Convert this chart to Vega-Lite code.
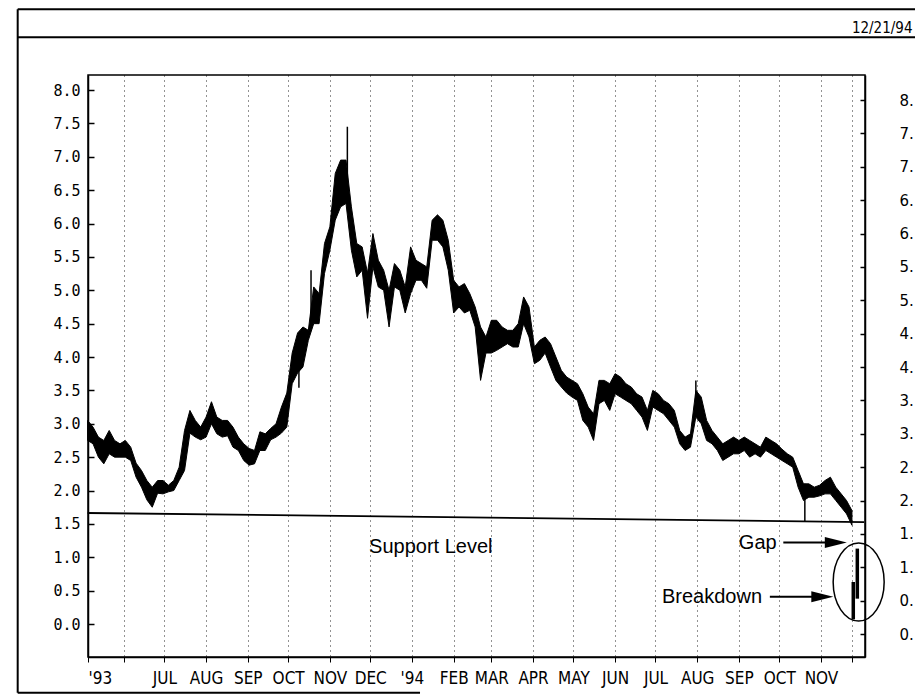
{
  "$schema": "https://vega.github.io/schema/vega-lite/v6.json",
  "width": 777,
  "height": 582,
  "autosize": {"type": "none"},
  "padding": {"left": 88, "top": 75, "right": 50, "bottom": 42},
  "background": "#ffffff",
  "config": {
    "view": {"stroke": "#000000", "strokeWidth": 1.5},
    "axis": {"domainColor": "#000000", "domainWidth": 1.5, "tickColor": "#000000", "labelColor": "#000000", "title": null, "grid": false}
  },
  "datasets": {
    "prices": [
      {"d": "1993-05-05", "lo": 2.75, "hi": 3.05}, {"d": "1993-05-09", "lo": 2.70, "hi": 2.95}, {"d": "1993-05-13", "lo": 2.50, "hi": 2.80}, {"d": "1993-05-17", "lo": 2.40, "hi": 2.75},
      {"d": "1993-05-21", "lo": 2.55, "hi": 2.90}, {"d": "1993-05-25", "lo": 2.50, "hi": 2.75}, {"d": "1993-05-29", "lo": 2.50, "hi": 2.70}, {"d": "1993-06-02", "lo": 2.50, "hi": 2.75},
      {"d": "1993-06-06", "lo": 2.45, "hi": 2.65}, {"d": "1993-06-10", "lo": 2.20, "hi": 2.41}, {"d": "1993-06-14", "lo": 2.05, "hi": 2.30}, {"d": "1993-06-18", "lo": 1.86, "hi": 2.15},
      {"d": "1993-06-22", "lo": 1.75, "hi": 2.05}, {"d": "1993-06-26", "lo": 1.96, "hi": 2.15}, {"d": "1993-06-30", "lo": 1.95, "hi": 2.15}, {"d": "1993-07-04", "lo": 1.98, "hi": 2.08},
      {"d": "1993-07-08", "lo": 2.00, "hi": 2.15}, {"d": "1993-07-12", "lo": 2.15, "hi": 2.35}, {"d": "1993-07-16", "lo": 2.30, "hi": 2.90}, {"d": "1993-07-20", "lo": 2.86, "hi": 3.20},
      {"d": "1993-07-24", "lo": 2.80, "hi": 3.05}, {"d": "1993-07-28", "lo": 2.76, "hi": 2.95}, {"d": "1993-08-01", "lo": 2.80, "hi": 3.10}, {"d": "1993-08-05", "lo": 3.00, "hi": 3.33},
      {"d": "1993-08-09", "lo": 2.85, "hi": 3.10}, {"d": "1993-08-13", "lo": 2.80, "hi": 3.05}, {"d": "1993-08-17", "lo": 2.82, "hi": 3.05}, {"d": "1993-08-21", "lo": 2.65, "hi": 2.95},
      {"d": "1993-08-25", "lo": 2.60, "hi": 2.80}, {"d": "1993-08-29", "lo": 2.45, "hi": 2.70}, {"d": "1993-09-02", "lo": 2.38, "hi": 2.63}, {"d": "1993-09-06", "lo": 2.40, "hi": 2.60},
      {"d": "1993-09-10", "lo": 2.60, "hi": 2.88}, {"d": "1993-09-14", "lo": 2.60, "hi": 2.85}, {"d": "1993-09-18", "lo": 2.76, "hi": 2.93}, {"d": "1993-09-22", "lo": 2.80, "hi": 3.00},
      {"d": "1993-09-26", "lo": 2.86, "hi": 3.25}, {"d": "1993-09-30", "lo": 2.95, "hi": 3.46}, {"d": "1993-10-04", "lo": 3.60, "hi": 4.06}, {"d": "1993-10-08", "lo": 3.76, "hi": 4.36},
      {"d": "1993-10-12", "lo": 3.85, "hi": 4.45}, {"d": "1993-10-16", "lo": 4.25, "hi": 4.40}, {"d": "1993-10-20", "lo": 4.50, "hi": 5.05}, {"d": "1993-10-24", "lo": 4.50, "hi": 4.95},
      {"d": "1993-10-28", "lo": 5.25, "hi": 5.70}, {"d": "1993-11-01", "lo": 5.60, "hi": 5.95}, {"d": "1993-11-05", "lo": 6.05, "hi": 6.75}, {"d": "1993-11-09", "lo": 6.25, "hi": 6.95},
      {"d": "1993-11-13", "lo": 6.30, "hi": 6.95}, {"d": "1993-11-17", "lo": 5.60, "hi": 6.25}, {"d": "1993-11-21", "lo": 5.20, "hi": 5.70}, {"d": "1993-11-25", "lo": 5.30, "hi": 5.65},
      {"d": "1993-11-29", "lo": 4.58, "hi": 5.26}, {"d": "1993-12-03", "lo": 5.35, "hi": 5.85}, {"d": "1993-12-07", "lo": 5.05, "hi": 5.45}, {"d": "1993-12-11", "lo": 5.00, "hi": 5.30},
      {"d": "1993-12-15", "lo": 4.45, "hi": 5.00}, {"d": "1993-12-19", "lo": 5.05, "hi": 5.40}, {"d": "1993-12-23", "lo": 5.00, "hi": 5.30}, {"d": "1993-12-27", "lo": 4.66, "hi": 5.05},
      {"d": "1993-12-31", "lo": 4.95, "hi": 5.65}, {"d": "1994-01-04", "lo": 5.15, "hi": 5.45}, {"d": "1994-01-08", "lo": 5.15, "hi": 5.40}, {"d": "1994-01-12", "lo": 5.03, "hi": 5.35},
      {"d": "1994-01-16", "lo": 5.75, "hi": 6.05}, {"d": "1994-01-20", "lo": 5.75, "hi": 6.13}, {"d": "1994-01-24", "lo": 5.65, "hi": 6.05}, {"d": "1994-01-28", "lo": 5.30, "hi": 5.75},
      {"d": "1994-02-01", "lo": 4.66, "hi": 5.15}, {"d": "1994-02-05", "lo": 4.75, "hi": 5.05}, {"d": "1994-02-09", "lo": 4.66, "hi": 5.10}, {"d": "1994-02-13", "lo": 4.70, "hi": 4.95},
      {"d": "1994-02-17", "lo": 4.45, "hi": 4.75}, {"d": "1994-02-21", "lo": 3.65, "hi": 4.45}, {"d": "1994-02-25", "lo": 4.06, "hi": 4.30}, {"d": "1994-03-01", "lo": 4.06, "hi": 4.55},
      {"d": "1994-03-05", "lo": 4.10, "hi": 4.55}, {"d": "1994-03-09", "lo": 4.15, "hi": 4.45}, {"d": "1994-03-13", "lo": 4.20, "hi": 4.40}, {"d": "1994-03-17", "lo": 4.15, "hi": 4.40},
      {"d": "1994-03-21", "lo": 4.15, "hi": 4.50}, {"d": "1994-03-25", "lo": 4.50, "hi": 4.90}, {"d": "1994-03-29", "lo": 4.30, "hi": 4.75}, {"d": "1994-04-02", "lo": 3.90, "hi": 4.15},
      {"d": "1994-04-06", "lo": 3.95, "hi": 4.25}, {"d": "1994-04-10", "lo": 4.06, "hi": 4.30}, {"d": "1994-04-14", "lo": 3.85, "hi": 4.20}, {"d": "1994-04-18", "lo": 3.65, "hi": 4.00},
      {"d": "1994-04-22", "lo": 3.55, "hi": 3.80}, {"d": "1994-04-26", "lo": 3.46, "hi": 3.70}, {"d": "1994-04-30", "lo": 3.40, "hi": 3.65}, {"d": "1994-05-04", "lo": 3.35, "hi": 3.60},
      {"d": "1994-05-08", "lo": 3.05, "hi": 3.45}, {"d": "1994-05-12", "lo": 2.95, "hi": 3.25}, {"d": "1994-05-16", "lo": 2.75, "hi": 3.15}, {"d": "1994-05-20", "lo": 3.30, "hi": 3.65},
      {"d": "1994-05-24", "lo": 3.35, "hi": 3.65}, {"d": "1994-05-28", "lo": 3.20, "hi": 3.60}, {"d": "1994-06-01", "lo": 3.45, "hi": 3.75}, {"d": "1994-06-05", "lo": 3.40, "hi": 3.70},
      {"d": "1994-06-09", "lo": 3.35, "hi": 3.60}, {"d": "1994-06-13", "lo": 3.30, "hi": 3.55}, {"d": "1994-06-17", "lo": 3.20, "hi": 3.45}, {"d": "1994-06-21", "lo": 3.10, "hi": 3.40},
      {"d": "1994-06-25", "lo": 2.90, "hi": 3.20}, {"d": "1994-06-29", "lo": 3.25, "hi": 3.50}, {"d": "1994-07-03", "lo": 3.20, "hi": 3.45}, {"d": "1994-07-07", "lo": 3.15, "hi": 3.35},
      {"d": "1994-07-11", "lo": 3.05, "hi": 3.30}, {"d": "1994-07-15", "lo": 2.95, "hi": 3.20}, {"d": "1994-07-19", "lo": 2.70, "hi": 2.90}, {"d": "1994-07-23", "lo": 2.60, "hi": 2.80},
      {"d": "1994-07-27", "lo": 2.65, "hi": 2.85}, {"d": "1994-07-31", "lo": 3.10, "hi": 3.50}, {"d": "1994-08-04", "lo": 3.00, "hi": 3.40}, {"d": "1994-08-08", "lo": 2.75, "hi": 3.05},
      {"d": "1994-08-12", "lo": 2.70, "hi": 2.90}, {"d": "1994-08-16", "lo": 2.60, "hi": 2.80}, {"d": "1994-08-20", "lo": 2.45, "hi": 2.70}, {"d": "1994-08-24", "lo": 2.50, "hi": 2.75},
      {"d": "1994-08-28", "lo": 2.55, "hi": 2.80}, {"d": "1994-09-01", "lo": 2.55, "hi": 2.75}, {"d": "1994-09-05", "lo": 2.60, "hi": 2.80}, {"d": "1994-09-09", "lo": 2.50, "hi": 2.75},
      {"d": "1994-09-13", "lo": 2.55, "hi": 2.70}, {"d": "1994-09-17", "lo": 2.50, "hi": 2.65}, {"d": "1994-09-21", "lo": 2.60, "hi": 2.80}, {"d": "1994-09-25", "lo": 2.55, "hi": 2.75},
      {"d": "1994-09-29", "lo": 2.50, "hi": 2.70}, {"d": "1994-10-03", "lo": 2.45, "hi": 2.62}, {"d": "1994-10-07", "lo": 2.40, "hi": 2.55}, {"d": "1994-10-11", "lo": 2.35, "hi": 2.50},
      {"d": "1994-10-15", "lo": 2.05, "hi": 2.30}, {"d": "1994-10-19", "lo": 1.85, "hi": 2.10}, {"d": "1994-10-23", "lo": 1.90, "hi": 2.10}, {"d": "1994-10-27", "lo": 1.90, "hi": 2.05},
      {"d": "1994-10-31", "lo": 1.92, "hi": 2.08}, {"d": "1994-11-04", "lo": 1.95, "hi": 2.15}, {"d": "1994-11-08", "lo": 1.95, "hi": 2.20}, {"d": "1994-11-12", "lo": 1.85, "hi": 2.05},
      {"d": "1994-11-16", "lo": 1.75, "hi": 1.95}, {"d": "1994-11-20", "lo": 1.65, "hi": 1.85}, {"d": "1994-11-24", "lo": 1.48, "hi": 1.70}
    ],
    "spikes": [
      {"d": "1993-10-09", "lo": 3.54, "hi": 4.30},
      {"d": "1993-10-18", "lo": 4.50, "hi": 5.30},
      {"d": "1993-11-14", "lo": 6.30, "hi": 7.45},
      {"d": "1994-07-31", "lo": 3.30, "hi": 3.65},
      {"d": "1994-10-20", "lo": 1.53, "hi": 2.10}
    ],
    "breakdown": [
      {"d": "1994-11-25", "lo": 0.07, "hi": 0.63},
      {"d": "1994-11-28", "lo": 0.38, "hi": 1.13}
    ],
    "lines": [
      {"kind": "frame", "x1": "1993-03-14", "x2": "1995-01-25", "y1": 9.21, "y2": 9.21},
      {"kind": "frame", "x1": "1993-03-14", "x2": "1995-01-25", "y1": 8.79, "y2": 8.79},
      {"kind": "frame", "x1": "1993-03-14", "x2": "1993-03-14", "y1": -1.03, "y2": 9.21},
      {"kind": "frame", "x1": "1993-03-14", "x2": "1994-01-07", "y1": -1.03, "y2": -1.03},
      {"kind": "support", "x1": "1993-05-05", "x2": "1994-12-03", "y1": 1.663, "y2": 1.528},
      {"kind": "arrow", "x1": "1994-10-04", "x2": "1994-11-12", "y1": 1.22, "y2": 1.22},
      {"kind": "arrow", "x1": "1994-09-24", "x2": "1994-11-02", "y1": 0.41, "y2": 0.41}
    ],
    "heads": [
      {"d": "1994-11-12", "v": 1.22},
      {"d": "1994-11-02", "v": 0.41}
    ],
    "circle": [{"d": "1994-11-29", "v": 0.63}],
    "notes": [
      {"t": "Support Level", "d": "1994-01-15", "v": 1.15},
      {"t": "Gap", "d": "1994-09-15", "v": 1.21},
      {"t": "Breakdown", "d": "1994-08-12", "v": 0.40}
    ],
    "stamp": [{"t": "12/21/94", "d": "1995-01-08", "v": 8.93}],
    "axisTicks": [{"v": 0}, {"v": 8}]
  },
  "layer": [
    {
      "layer": [
        {
          "data": {"name": "prices"},
          "mark": {"type": "area", "color": "#000000", "stroke": "#000000", "strokeWidth": 1, "interpolate": "linear", "opacity": 1},
          "encoding": {
            "x": {
              "field": "d", "type": "temporal",
              "scale": {"type": "utc", "nice": false, "domain": [{"year": 1993, "month": "may", "date": 5, "hours": 6, "utc": true}, {"year": 1994, "month": "dec", "date": 3, "hours": 17, "utc": true}]},
              "axis": {
                "orient": "bottom",
                "values": [
                  {"year": 1993, "month": "may", "date": 5, "hours": 6, "utc": true},
                  {"year": 1993, "month": "jun", "date": 1, "utc": true},
                  {"year": 1993, "month": "jul", "date": 1, "utc": true},
                  {"year": 1993, "month": "aug", "date": 1, "utc": true},
                  {"year": 1993, "month": "sep", "date": 1, "utc": true},
                  {"year": 1993, "month": "oct", "date": 1, "utc": true},
                  {"year": 1993, "month": "nov", "date": 1, "utc": true},
                  {"year": 1993, "month": "dec", "date": 1, "utc": true},
                  {"year": 1994, "month": "jan", "date": 1, "utc": true},
                  {"year": 1994, "month": "feb", "date": 1, "utc": true},
                  {"year": 1994, "month": "mar", "date": 1, "utc": true},
                  {"year": 1994, "month": "apr", "date": 1, "utc": true},
                  {"year": 1994, "month": "may", "date": 1, "utc": true},
                  {"year": 1994, "month": "jun", "date": 1, "utc": true},
                  {"year": 1994, "month": "jul", "date": 1, "utc": true},
                  {"year": 1994, "month": "aug", "date": 1, "utc": true},
                  {"year": 1994, "month": "sep", "date": 1, "utc": true},
                  {"year": 1994, "month": "oct", "date": 1, "utc": true},
                  {"year": 1994, "month": "nov", "date": 1, "utc": true},
                  {"year": 1994, "month": "nov", "date": 24, "utc": true}
                ],
                "labelExpr": "datum.value < utc(1993,4,20) ? \"'93\" : ((datum.value < utc(1993,5,15) || datum.value > utc(1994,10,15)) ? '' : (utcmonth(datum.value) == 0 ? \"'94\" : upper(utcFormat(datum.value, '%b'))))",
                "labelAlign": {"condition": {"test": "datum.value < utc(1993,4,20)", "value": "left"}, "value": "center"},
                "labelOverlap": false,
                "labelFlush": false,
                "labelBound": false,
                "labelFont": "Liberation Sans Narrow, DejaVu Sans Condensed, DejaVu Sans Mono",
                "labelFontSize": 17,
                "labelPadding": 8,
                "tickSize": 5,
                "grid": true,
                "gridColor": "#000000",
                "gridDash": [1, 4],
                "gridWidth": 1,
                "gridOpacity": 0.85,
                "title": null
              }
            },
            "y": {
              "field": "lo", "type": "quantitative",
              "scale": {"domain": [-0.494, 8.225], "nice": false, "zero": false},
              "axis": null
            },
            "y2": {"field": "hi"}
          }
        },
        {
          "data": {"name": "spikes"},
          "mark": {"type": "rule", "color": "#000000", "strokeWidth": 1.5},
          "encoding": {
            "x": {"field": "d", "type": "temporal", "title": null},
            "y": {"field": "lo", "type": "quantitative", "axis": null},
            "y2": {"field": "hi"}
          }
        },
        {
          "data": {"name": "breakdown"},
          "mark": {"type": "rule", "color": "#000000", "strokeWidth": 3.5},
          "encoding": {
            "x": {"field": "d", "type": "temporal", "title": null},
            "y": {"field": "lo", "type": "quantitative", "axis": null},
            "y2": {"field": "hi"}
          }
        },
        {
          "data": {"name": "lines"},
          "transform": [{"filter": "datum.kind == 'frame'"}],
          "mark": {"type": "rule", "color": "#000000", "strokeWidth": 2, "clip": false},
          "encoding": {
            "x": {"field": "x1", "type": "temporal", "title": null},
            "x2": {"field": "x2"},
            "y": {"field": "y1", "type": "quantitative", "axis": null},
            "y2": {"field": "y2"}
          }
        },
        {
          "data": {"name": "lines"},
          "transform": [{"filter": "datum.kind == 'support'"}],
          "mark": {"type": "rule", "color": "#000000", "strokeWidth": 1.8, "clip": false},
          "encoding": {
            "x": {"field": "x1", "type": "temporal", "title": null},
            "x2": {"field": "x2"},
            "y": {"field": "y1", "type": "quantitative", "axis": null},
            "y2": {"field": "y2"}
          }
        },
        {
          "data": {"name": "lines"},
          "transform": [{"filter": "datum.kind == 'arrow'"}],
          "mark": {"type": "rule", "color": "#000000", "strokeWidth": 2},
          "encoding": {
            "x": {"field": "x1", "type": "temporal", "title": null},
            "x2": {"field": "x2"},
            "y": {"field": "y1", "type": "quantitative", "axis": null},
            "y2": {"field": "y2"}
          }
        },
        {
          "data": {"name": "heads"},
          "mark": {"type": "point", "shape": "M -1 -0.5 L 1 0 L -1 0.5 Z", "size": 484, "filled": true, "color": "#000000", "opacity": 1},
          "encoding": {
            "x": {"field": "d", "type": "temporal", "title": null},
            "y": {"field": "v", "type": "quantitative", "axis": null}
          }
        },
        {
          "data": {"name": "circle"},
          "mark": {"type": "point", "shape": "M -0.654 0 C -0.654 -0.552 -0.361 -1 0 -1 C 0.361 -1 0.654 -0.552 0.654 0 C 0.654 0.552 0.361 1 0 1 C -0.361 1 -0.654 0.552 -0.654 0 Z", "size": 6084, "filled": false, "stroke": "#000000", "strokeWidth": 1.5, "opacity": 1, "clip": false},
          "encoding": {
            "x": {"field": "d", "type": "temporal", "title": null},
            "y": {"field": "v", "type": "quantitative", "axis": null}
          }
        },
        {
          "data": {"name": "notes"},
          "mark": {"type": "text", "font": "Liberation Sans", "fontSize": 20, "align": "center", "baseline": "middle", "color": "#000000"},
          "encoding": {
            "x": {"field": "d", "type": "temporal", "title": null},
            "y": {"field": "v", "type": "quantitative", "axis": null},
            "text": {"field": "t"}
          }
        },
        {
          "data": {"name": "stamp"},
          "mark": {"type": "text", "font": "Liberation Sans Narrow, DejaVu Sans Condensed, DejaVu Sans Mono", "fontSize": 15, "align": "right", "baseline": "middle", "color": "#000000", "clip": false},
          "encoding": {
            "x": {"field": "d", "type": "temporal", "title": null},
            "y": {"field": "v", "type": "quantitative", "axis": null},
            "text": {"field": "t"}
          }
        }
      ]
    },
    {
      "data": {"name": "axisTicks"},
      "mark": {"type": "point", "opacity": 0},
      "encoding": {
        "y": {
          "field": "v", "type": "quantitative",
          "scale": {"domain": [-0.494, 8.225], "nice": false, "zero": false},
          "axis": {
            "orient": "left",
            "values": [0, 0.5, 1, 1.5, 2, 2.5, 3, 3.5, 4, 4.5, 5, 5.5, 6, 6.5, 7, 7.5, 8],
            "labelExpr": "format(datum.value, '.1f')",
            "labelOverlap": false,
            "labelBound": false,
            "labelFont": "DejaVu Sans Mono",
            "labelFontSize": 15,
            "tickSize": -6,
            "tickWidth": 1.5,
            "labelPadding": 14,
            "title": null
          }
        }
      }
    },
    {
      "data": {"name": "axisTicks"},
      "mark": {"type": "point", "opacity": 0},
      "encoding": {
        "y": {
          "field": "v", "type": "quantitative",
          "scale": {"domain": [-0.344, 8.375], "nice": false, "zero": false},
          "axis": {
            "orient": "right",
            "values": [0, 0.5, 1, 1.5, 2, 2.5, 3, 3.5, 4, 4.5, 5, 5.5, 6, 6.5, 7, 7.5, 8],
            "labelExpr": "substring(format(datum.value, '.1f'), 0, 2)",
            "labelOverlap": false,
            "labelBound": false,
            "labelFont": "DejaVu Sans",
            "labelFontSize": 15,
            "tickSize": -5,
            "tickWidth": 1.5,
            "labelPadding": 39,
            "title": null
          }
        }
      }
    }
  ],
  "resolve": {"scale": {"y": "independent"}, "axis": {"y": "independent"}}
}
